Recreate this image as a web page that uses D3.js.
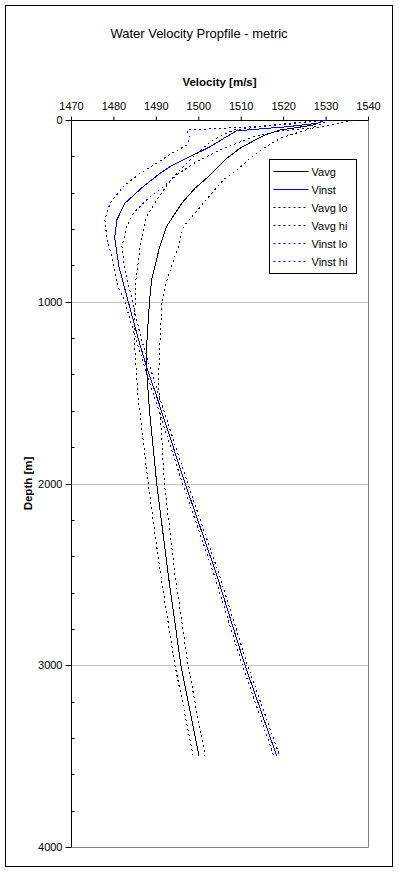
<!DOCTYPE html>
<html>
<head>
<meta charset="utf-8">
<script src="https://cdn.jsdelivr.net/npm/d3@7"></script>
<style>
  body { margin: 0; background: #fff; }
  svg text { font-family: "Liberation Sans", Arial, sans-serif; }
</style>
</head>
<body>
<div class="chart"></div>
<script>
// velocity profile readings: [depth m, velocity m/s]
const vavg = [[0,1530],[27,1527.1],[42,1523.2],[55,1519.3],[79,1516.1],[115,1513],[156,1509.8],[211,1506.7],[303,1502.8],[376,1499.2],[458,1496.1],[587,1492.5],[697,1490.9],[880,1489],[1000,1488.5],[1250,1487.8],[1400,1487.9],[1600,1488.5],[2000,1490.2],[2500,1492.9],[3000,1495.9],[3500,1500.2]];
const vinst = [[0,1530],[18,1528],[37,1521],[50,1514],[60,1509],[101,1506],[147,1502.8],[202,1498],[257,1493.3],[293,1491],[367,1487],[458,1482.7],[550,1480.8],[650,1480.3],[807,1481.3],[1000,1483.5],[1200,1485.8],[1357,1487.8],[1500,1489.9],[2000,1496.9],[2500,1504.3],[3000,1511],[3500,1518.5]];
const vavgLo = [[0,1530],[27,1518],[55,1508.3],[110,1503.5],[156,1501],[220,1498],[330,1493.5],[440,1490.2],[532,1487.8],[697,1486.3],[880,1485.3],[1000,1485.1],[1250,1485],[1500,1485.7],[2000,1488.2],[2500,1491.1],[3000,1494.5],[3500,1498.8]];
const vavgHi = [[0,1531],[50,1526],[101,1519.3],[156,1515.3],[211,1512.2],[275,1509.1],[330,1505.9],[394,1503.5],[458,1501.2],[587,1496.5],[697,1495.3],[880,1492.6],[1000,1491.4],[1430,1490.6],[2000,1492],[2500,1494.5],[3000,1497.6],[3500,1501.6]];
const vinstLo = [[0,1530],[24,1521],[42,1509],[55,1497.3],[101,1498],[138,1497.3],[189,1493.3],[238,1490.2],[293,1486.3],[367,1482.3],[458,1479.2],[550,1478],[642,1478.4],[715,1479.2],[917,1481.1],[1000,1482.7],[1200,1485.2],[1500,1489.3],[2000,1496.3],[2500,1503.7],[3000,1510.4],[3500,1517.8]];
const vinstHi = [[0,1536.5],[42,1528],[60,1519.3],[92,1513],[128,1509],[174,1504.3],[229,1499.6],[293,1495.5],[367,1491.8],[422,1488.6],[513,1484.7],[587,1483.1],[697,1482],[800,1482.5],[1000,1484.5],[1200,1486.5],[1500,1490.5],[2000,1497.5],[2500,1504.9],[3000,1511.6],[3500,1519.2]];

const seriesNames = ["Vavg", "Vinst", "Vavg lo", "Vavg hi", "Vinst lo", "Vinst hi"];
const seriesData = [vavg, vinst, vavgLo, vavgHi, vinstLo, vinstHi];
const seriesColor = ["#000000", "#0000ff", "#000000", "#000000", "#0000ff", "#0000ff"];
const seriesDash = [null, null, "2,3", "2,3", "2,3", "2,3"];

const xTicks = [1470, 1480, 1490, 1500, 1510, 1520, 1530, 1540];
const yTicks = [0, 1000, 2000, 3000, 4000];

const W = 399, H = 873;
const margin = { top: 120, right: 31, bottom: 26, left: 71 };
const width = W - margin.left - margin.right;
const height = H - margin.top - margin.bottom;

const svg = d3.select(".chart").append("svg")
  .attr("width", W)
  .attr("height", H);

// outer frame
svg.append("rect")
  .attr("x", 5.5).attr("y", 5.5)
  .attr("width", 387).attr("height", 861)
  .attr("fill", "#fff").attr("stroke", "#000");

svg.append("text")
  .attr("x", 199).attr("y", 38)
  .attr("text-anchor", "middle")
  .style("font-size", "13px")
  .text("Water Velocity Propfile - metric");

const g = svg.append("g")
  .attr("transform", "translate(" + margin.left + "," + margin.top + ")");

var x = d3.scaleLinear().domain([1470, 1540]).range([0, width]);
var y = d3.scaleLinear().domain([0, 4000]).range([0, height]);

// gridlines
g.append("g")
  .selectAll("line")
  .data(yTicks.filter((d) => d > 0 && d < 4000))
  .enter()
  .append("line")
  .attr("x1", 0).attr("x2", width)
  .attr("y1", (d) => Math.round(y(d)) + 0.5)
  .attr("y2", (d) => Math.round(y(d)) + 0.5)
  .attr("stroke", "#c0c0c0");

// right / bottom plot border
g.append("path")
  .attr("d", `M${width + 0.5},0 V${height + 0.5} H0`)
  .attr("fill", "none")
  .attr("stroke", "#808080");

// ---------------------------//
//       AXES                 //
// ---------------------------//

var xAxis = g.append("g")
  .attr("transform", "translate(0,0.5)")
  .call(d3.axisTop(x).tickValues(xTicks).tickSize(4).tickPadding(7).tickFormat(d3.format("d")));
xAxis.selectAll("text").style("font-size", "11px").attr("fill", "#000");
xAxis.select(".domain").attr("d", `M0,0H${width}`);

// minor ticks every 200 m, inside
g.append("g")
  .selectAll("line")
  .data(d3.range(200, 4000, 200).filter((d) => d % 1000 !== 0))
  .enter()
  .append("line")
  .attr("x1", 0.5).attr("x2", 3.5)
  .attr("y1", (d) => Math.round(y(d)) + 0.5)
  .attr("y2", (d) => Math.round(y(d)) + 0.5)
  .attr("stroke", "#000");

var yAxis = g.append("g")
  .attr("transform", "translate(0.5,0)")
  .call(d3.axisLeft(y).tickValues(yTicks).tickSize(6).tickPadding(3).tickFormat(d3.format("d")));
yAxis.selectAll("text").style("font-size", "11px").attr("fill", "#000");
yAxis.select(".domain").attr("d", `M0,0V${height}`);
yAxis.selectAll(".tick").attr("transform", (d) => "translate(0," + (Math.round(y(d)) + 0.5) + ")");

svg.append("text")
  .attr("x", margin.left + width / 2).attr("y", 86)
  .attr("text-anchor", "middle")
  .style("font-size", "11.5px").style("font-weight", "bold")
  .text("Velocity [m/s]");

svg.append("text")
  .attr("transform", "translate(32," + (margin.top + height / 2) + ") rotate(-90)")
  .attr("text-anchor", "middle")
  .style("font-size", "11.5px").style("font-weight", "bold")
  .text("Depth [m]");

// ---------------------------//
//       LINES                //
// ---------------------------//

var line = d3.line()
  .x((d) => x(d[1]))
  .y((d) => y(d[0]));

g.append("g")
  .selectAll("path")
  .data(seriesData)
  .enter()
  .append("path")
  .attr("d", (d) => line(d))
  .attr("fill", "none")
  .attr("stroke", (d, i) => seriesColor[i])
  .attr("stroke-width", 1)
  .attr("stroke-dasharray", (d, i) => seriesDash[i])
  .attr("shape-rendering", "crispEdges");

// ---------------------------//
//       LEGEND               //
// ---------------------------//

var legend = svg.append("g").attr("transform", "translate(269.5,159.5)");
legend.append("rect")
  .attr("width", 87).attr("height", 114)
  .attr("fill", "#fff").attr("stroke", "#000");

seriesNames.forEach(function (name, i) {
  var row = legend.append("g")
    .attr("transform", "translate(0," + Math.round(12 + i * 17.9) + ")");
  row.append("line")
    .attr("x1", 4).attr("x2", 39)
    .attr("y1", 0).attr("y2", 0)
    .attr("stroke", seriesColor[i])
    .attr("stroke-width", 1.2)
    .attr("stroke-dasharray", seriesDash[i]);
  row.append("text")
    .attr("x", 42).attr("y", 4)
    .style("font-size", "11px")
    .text(name);
});
</script>
</body>
</html>
